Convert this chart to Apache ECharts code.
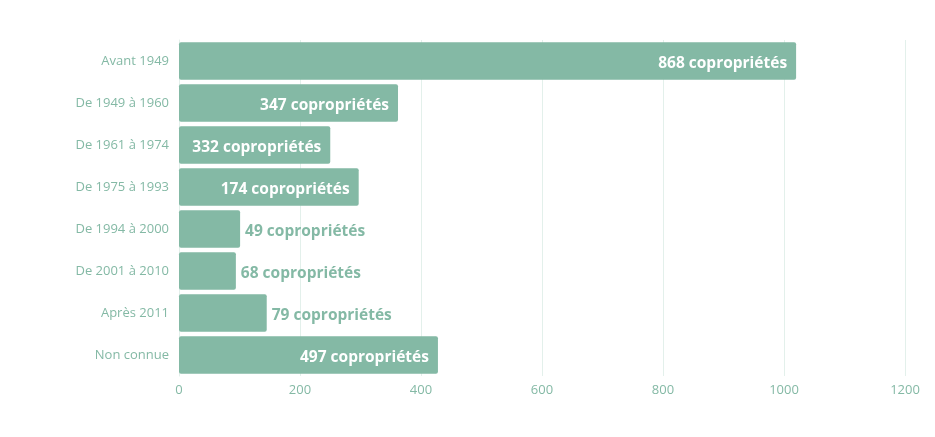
<!DOCTYPE html>
<html lang="fr">
<head>
<meta charset="utf-8">
<title>Copropriétés par période de construction</title>
<script src="https://cdn.jsdelivr.net/npm/echarts@6/dist/echarts.min.js"></script>
<style>
  html, body { margin: 0; padding: 0; background: #fff; }
  #chart { width: 935px; height: 437px; }
</style>
</head>
<body>
<div id="chart"></div>
<script>
// périodes de construction
var categories = ['Avant 1949', 'De 1949 à 1960', 'De 1961 à 1974', 'De 1975 à 1993',
                  'De 1994 à 2000', 'De 2001 à 2010', 'Après 2011', 'Non connue'];
var barValues = [1020, 362, 250, 297, 101, 94, 145, 428];
// nombre affiché dans l'étiquette
var labelCounts = [868, 347, 332, 174, 49, 68, 79, 497];
var xTicks = [0, 200, 400, 600, 800, 1000, 1200];

var green = '#84b9a5';
var chart = echarts.init(document.getElementById('chart'));

var data = barValues.map(function (v, i) {
  var inside = v >= 200;
  return {
    value: v,
    label: {
      position: inside ? 'insideRight' : 'right',
      distance: inside ? 9 : 5,
      color: inside ? '#fff' : green,
      formatter: labelCounts[i] + ' copropriétés'
    }
  };
});

chart.setOption({
  animation: false,
  grid: { left: 179, right: 30, top: 40, bottom: 61 },
  xAxis: {
    type: 'value',
    min: xTicks[0],
    max: xTicks[xTicks.length - 1],
    interval: 200,
    axisLine: { show: false },
    axisTick: { show: false },
    axisLabel: {
      color: green, fontFamily: 'Open Sans', fontSize: 13, margin: 8,
      formatter: function (v) { return String(v); }
    },
    splitLine: { lineStyle: { color: '#e3f0eb', width: 1 } }
  },
  yAxis: {
    type: 'category',
    data: categories,
    inverse: true,
    axisLine: { show: true, lineStyle: { color: '#e3f0eb' } },
    axisTick: { show: false },
    axisLabel: { color: green, fontFamily: 'Open Sans', fontSize: 13, margin: 10 }
  },
  series: [{
    type: 'bar',
    data: data,
    barCategoryGap: '11%',
    itemStyle: { color: green, borderRadius: 2 },
    label: {
      show: true,
      fontFamily: 'Open Sans',
      fontWeight: 'bold',
      fontSize: 15.5,
      offset: [0, 3]
    }
  }]
});
</script>
</body>
</html>
